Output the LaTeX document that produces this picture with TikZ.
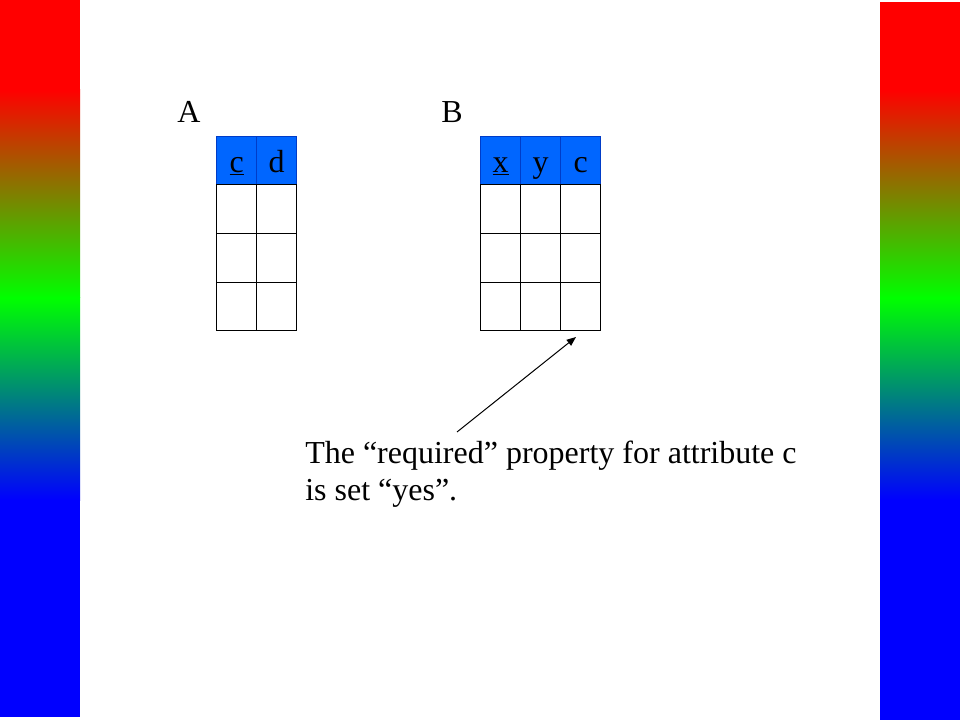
\documentclass[tikz,border=0pt]{standalone}
\usepackage{fontspec}
\setmainfont{Liberation Serif}
\usetikzlibrary{positioning,arrows.meta}
\definecolor{hdblue}{RGB}{0,102,255}
\definecolor{hdline}{RGB}{0,60,200}
\tikzset{
  cell/.style={draw=black, line width=0.9pt, minimum width=30pt, minimum height=36.5pt, inner sep=0pt, outer sep=0pt},
  hdcell/.style={cell, draw=hdline, fill=hdblue, text height=18.5pt, text depth=0.5pt, font=\fontsize{24}{28}\selectfont},
  lbl/.style={font=\fontsize{24}{28}\selectfont, inner sep=0pt},
  note/.style={font=\fontsize{24}{27.75}\selectfont, align=left, inner sep=0pt},
  conn/.style={line width=0.75pt, -{Triangle[length=7pt,width=5.5pt]}}
}
\begin{document}
\begin{tikzpicture}[x=0.75pt,y=-0.75pt]
  \useasboundingbox (0,0) rectangle (960,720);
  % side bars
  \fill[red] (0,0) rectangle (80,90);
  \shade[top color=red, bottom color=green] (0,90) rectangle (80,298);
  \shade[top color=green, bottom color=blue] (0,298) rectangle (80,500);
  \fill[blue] (0,500) rectangle (80,717);
  \fill[red] (880,2) rectangle (960,90);
  \shade[top color=red, bottom color=green] (880,90) rectangle (960,298);
  \shade[top color=green, bottom color=blue] (880,298) rectangle (960,500);
  \fill[blue] (880,500) rectangle (960,720);

  % table A
  \node[lbl, anchor=base] (lA) at (189,123) {A};
  \node[hdcell] (Ac0) at (236.7,160.5) {\underline{c}};
  \node[hdcell, right=0pt of Ac0] (Ad0) {d};
  \foreach \k in {c,d}{
    \foreach \r [remember=\r as \q (initially 0)] in {1,2,3}
      \node[cell, below=0pt of A\k\q] (A\k\r) {};
  }

  % table B
  \node[lbl, anchor=base] (lB) at (452,123) {B};
  \node[hdcell] (Bx0) at (500.7,160.5) {\underline{x}};
  \node[hdcell, right=0pt of Bx0] (By0) {y};
  \node[hdcell, right=0pt of By0] (Bc0) {c};
  \foreach \k in {x,y,c}{
    \foreach \r [remember=\r as \q (initially 0)] in {1,2,3}
      \node[cell, below=0pt of B\k\q] (B\k\r) {};
  }

  % note
  \node[note, anchor=base west] (note) at (305,500) {The “required” property for attribute c\\is set “yes”.};
  \coordinate (tail) at (457,432);
  \coordinate (tip) at (576,337);
  \draw[conn] (tail) -- (tip);
\end{tikzpicture}
\end{document}
